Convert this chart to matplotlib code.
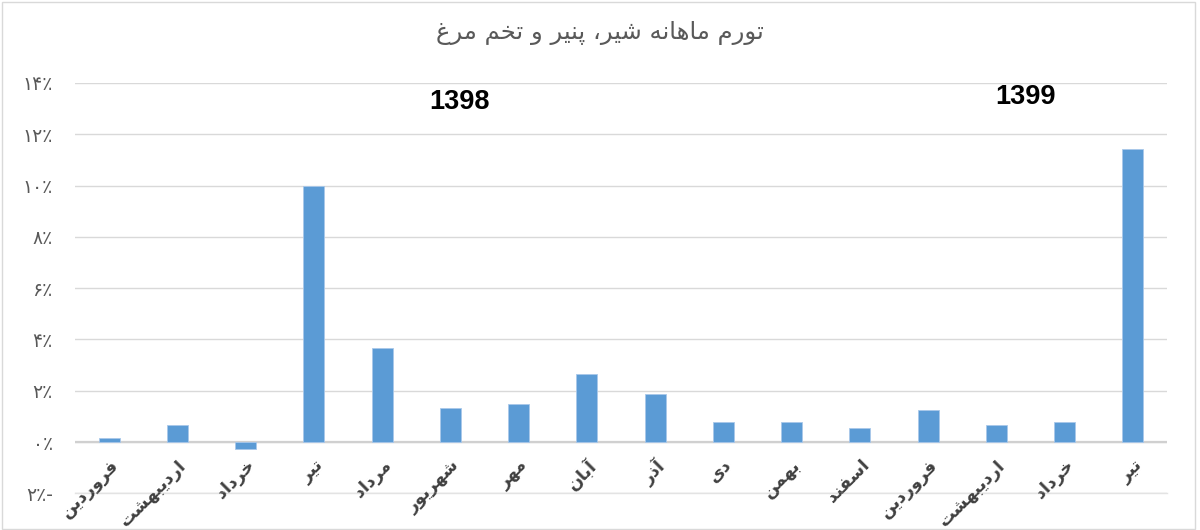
import matplotlib
matplotlib.use("Agg")
import matplotlib.pyplot as plt
from matplotlib.patches import Rectangle

# ---------------- data ----------------
months = ["فروردین", "اردیبهشت", "خرداد", "تیر", "مرداد", "شهریور", "مهر", "آبان",
          "آذر", "دی", "بهمن", "اسفند", "فروردین", "اردیبهشت", "خرداد", "تیر"]
inflation = [0.15, 0.66, -0.28, 10.0, 3.66, 1.32, 1.48, 2.65,
             1.86, 0.78, 0.78, 0.55, 1.25, 0.66, 0.78, 11.41]
y_ticks = [-2, 0, 2, 4, 6, 8, 10, 12, 14]
years = ["1398", "1399"]
title = "تورم ماهانه شیر، پنیر و تخم مرغ"

# ------------- simple Persian shaping -------------
FORMS = {  # isolated, final, initial, medial
    "ا": ("\uFE8D", "\uFE8E", None, None),
    "آ": ("\uFE81", "\uFE82", None, None),
    "د": ("\uFEA9", "\uFEAA", None, None),
    "ذ": ("\uFEAB", "\uFEAC", None, None),
    "ر": ("\uFEAD", "\uFEAE", None, None),
    "و": ("\uFEED", "\uFEEE", None, None),
    "ب": ("\uFE8F", "\uFE90", "\uFE91", "\uFE92"),
    "ت": ("\uFE95", "\uFE96", "\uFE97", "\uFE98"),
    "خ": ("\uFEA5", "\uFEA6", "\uFEA7", "\uFEA8"),
    "س": ("\uFEB1", "\uFEB2", "\uFEB3", "\uFEB4"),
    "ش": ("\uFEB5", "\uFEB6", "\uFEB7", "\uFEB8"),
    "غ": ("\uFECD", "\uFECE", "\uFECF", "\uFED0"),
    "ف": ("\uFED1", "\uFED2", "\uFED3", "\uFED4"),
    "م": ("\uFEE1", "\uFEE2", "\uFEE3", "\uFEE4"),
    "ن": ("\uFEE5", "\uFEE6", "\uFEE7", "\uFEE8"),
    "ه": ("\uFEE9", "\uFEEA", "\uFEEB", "\uFEEC"),
    "ی": ("\uFBFC", "\uFBFD", "\uFBFE", "\uFBFF"),
    "پ": ("\uFB56", "\uFB57", "\uFB58", "\uFB59"),
}


def dual(c):
    return c in FORMS and FORMS[c][2] is not None


def joins(c):
    return c in FORMS


def shape(s):
    out = []
    for i, c in enumerate(s):
        if c not in FORMS:
            out.append(c)
            continue
        prev = s[i - 1] if i > 0 else ""
        nxt = s[i + 1] if i + 1 < len(s) else ""
        p = dual(prev)
        n = dual(c) and joins(nxt)
        iso, fin, ini, med = FORMS[c]
        if p and n:
            out.append(med)
        elif p:
            out.append(fin)
        elif n:
            out.append(ini)
        else:
            out.append(iso)
    return "".join(out)[::-1]


FA_DIGITS = str.maketrans("0123456789", "۰۱۲۳۴۵۶۷۸۹")


def pct_label(v):
    s = str(abs(v)).translate(FA_DIGITS) + "٪"
    return s + "-" if v < 0 else s


# ---------------- plot ----------------
plt.rcParams["font.family"] = ["DejaVu Sans"]
fig = plt.figure(figsize=(12, 5.3), dpi=100)
ax = fig.add_axes([0.0625, 0.0692, 0.91, 0.7742])

x = list(range(len(months)))
ax.bar(x, inflation, width=0.31, color="#5B9BD5", edgecolor="#A9C8EA",
       linewidth=0.6, zorder=3)

ax.set_ylim(-2, 14)
ax.set_xlim(-0.5, len(months) - 0.5)
ax.set_yticks(y_ticks)
ax.set_yticklabels([pct_label(v) for v in y_ticks], color="#595959", fontsize=13.5)
ax.yaxis.grid(True, color="#D9D9D9", linewidth=1.0, zorder=0)
ax.axhline(0, color="#D0D0D0", linewidth=1.6, zorder=2)
ax.axhline(-2, color="#E3E3E3", linewidth=1.0, zorder=1, clip_on=False)
ax.tick_params(axis="both", length=0)
ax.tick_params(axis="y", pad=16)
for sp in ax.spines.values():
    sp.set_visible(False)
ax.spines["bottom"].set_position(("data", 0))

ax.set_xticks(x)
ax.set_xticklabels([shape(m) for m in months], rotation=45, ha="right",
                   va="top", rotation_mode="anchor", fontsize=12.5,
                   fontweight="bold", color="#404040")
ax.tick_params(axis="x", pad=10)

# year annotations
ax.text(5.13, 13.26, years[0], fontsize=19.5, fontweight="bold",
        family="Liberation Sans", ha="center", va="center", color="black")
ax.text(13.42, 13.45, years[1], fontsize=19.5, fontweight="bold",
        family="Liberation Sans", ha="center", va="center", color="black")

fig.text(0.5, 0.938, shape(title), ha="center", va="center",
         fontsize=17.5, color="#595959")

fig.patches.append(Rectangle((0.002, 0.002), 0.994, 0.995, transform=fig.transFigure,
                             fill=False, edgecolor="#D9D9D9", linewidth=1.0))

fig.savefig("out.png", dpi=100, facecolor="white")
